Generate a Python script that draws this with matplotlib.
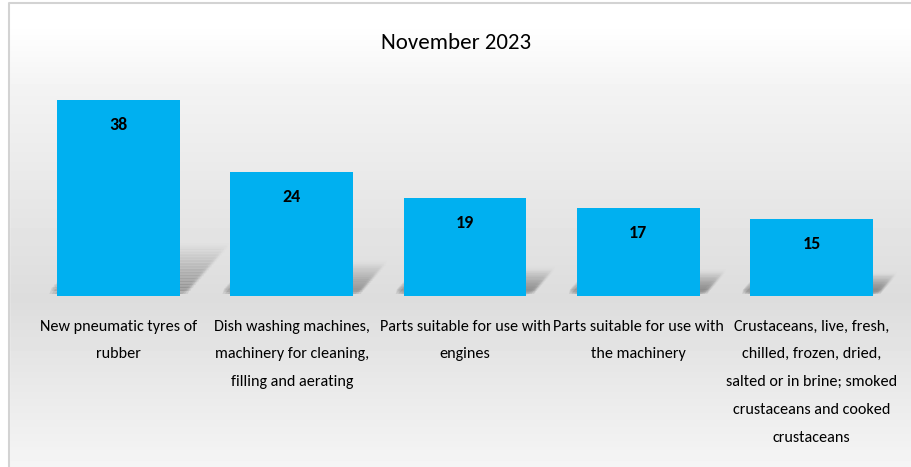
import numpy as np
import matplotlib
matplotlib.use('Agg')
import matplotlib.pyplot as plt

# Data
categories = [
    'New pneumatic tyres of\nrubber',
    'Dish washing machines,\nmachinery for cleaning,\nfilling and aerating',
    'Parts suitable for use with\nengines',
    'Parts suitable for use with\nthe machinery',
    'Crustaceans, live, fresh,\nchilled, frozen, dried,\nsalted or in brine; smoked\ncrustaceans and cooked\ncrustaceans',
]
values = [38, 24, 19, 17, 15]
title = 'November 2023'

plt.rcParams['font.family'] = ['Carlito', 'DejaVu Sans']

fig = plt.figure(figsize=(9.12, 4.67), dpi=100)

# fond en dégradé + cadre
bg = fig.add_axes([0, 0, 1, 1], zorder=-10)
ys = np.linspace(0, 1, 467)
g = np.interp(ys, [0, 0.05, 0.2, 0.64, 1.0], [1.0, 1.0, 0.95, 0.865, 0.96])
bg.imshow(np.tile(g[:, None], (1, 2)), cmap='gray', vmin=0, vmax=1,
          aspect='auto', extent=[0, 1, 1, 0])
bg.set_xlim(0, 1)
bg.set_ylim(1, 0)
bg.axis('off')
bg.fill_between([0, 1], 0, 3 / 467, color='white')
bg.fill_between([0, 9 / 912], 0, 1, color='white')
bg.plot([9 / 912, 9 / 912, 1], [1, 3 / 467, 3 / 467], color='#D3D3D3', lw=1.5)

ax = fig.add_axes([32 / 912, 1 - 296 / 467, 866 / 912, 206.5 / 467])
ax.patch.set_alpha(0)
x = np.arange(len(values))
bars = ax.bar(x, values, width=0.71, color='#00B0F0', zorder=3)

# ombres en perspective (floues)
for b in bars:
    x0, w, h = b.get_x(), b.get_width(), b.get_height()
    dx, dy = 0.0063 * h, 0.24 * h
    n = 16
    for blur in (0.0, 0.015, 0.03, 0.045):
        for k in range(n):
            t0, t1 = k / n, (k + 1) / n
            px = [x0 + t0 * dx - blur, x0 + w + t0 * dx + blur,
                  x0 + w + t1 * dx + blur, x0 + t1 * dx - blur]
            py = [t0 * dy + 0.4, t0 * dy + 0.4, t1 * dy + blur * 25, t1 * dy + blur * 25]
            ax.fill(px, py, color='#606060', alpha=0.13 * (1 - t0) ** 1.1,
                    lw=0, zorder=2)

for b, v in zip(bars, values):
    ax.annotate(str(v), (b.get_x() + b.get_width() / 2, v), xytext=(0, -18),
                textcoords='offset points', ha='center', va='center',
                fontsize=13, fontweight='bold', zorder=4)

ax.set_xlim(-0.5, len(values) - 0.5)
ax.set_ylim(0, 40)
ax.set_xticks(x)
ax.set_xticklabels(categories, fontsize=11.6, linespacing=2.25, va='top')
ax.tick_params(axis='x', length=0, pad=17)
ax.set_yticks([])
for s in ax.spines.values():
    s.set_visible(False)

fig.text(0.5, 1 - 43 / 467, title, ha='center', va='center', fontsize=16.5)

fig.savefig('out.png', dpi=100)
